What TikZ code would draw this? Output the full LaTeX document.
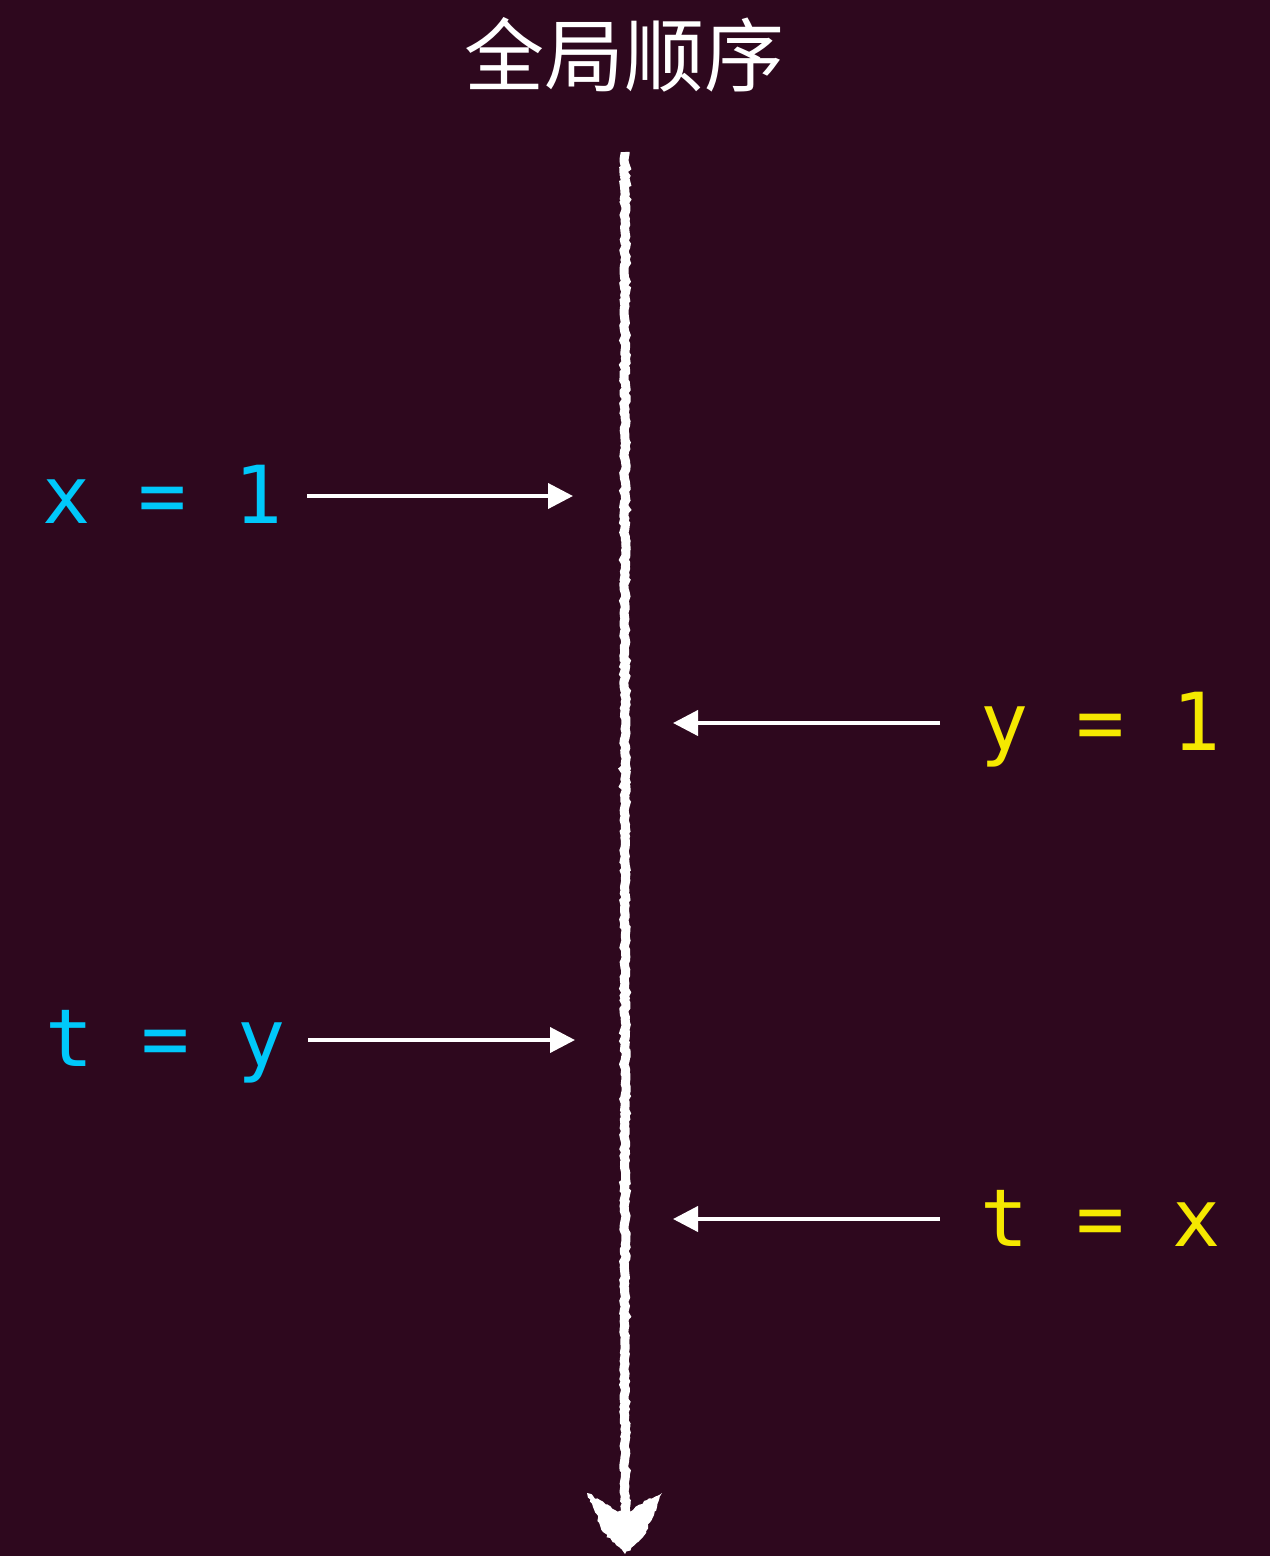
\documentclass[tikz,border=0pt]{standalone}
\usepackage{fontspec}
\newfontfamily\cjk{Noto Sans CJK SC}
\newfontfamily\monof{DejaVu Sans Mono}
\usetikzlibrary{decorations.pathmorphing,arrows.meta}
\definecolor{bgc}{RGB}{46,8,30}
\definecolor{cyanc}{RGB}{0,200,250}
\definecolor{yellowc}{RGB}{245,232,0}
\tikzset{
  codetext/.style={inner sep=0pt, anchor=base west, font=\monof\fontsize{80}{80}\selectfont},
  evarrow/.style={draw=white, line width=4pt, -{Triangle[length=25pt,width=25pt]}},
  chalk/.style={draw=white, line width=9pt, decorate, decoration={random steps, segment length=3pt, amplitude=1.2pt}},
}
\begin{document}
\begin{tikzpicture}[x=1pt,y=-1pt]
\fill[bgc] (0,0) rectangle (1270,1556);
\useasboundingbox (0,0) rectangle (1270,1556);
\node[text=white, font=\cjk\fontsize{80}{80}\selectfont, inner sep=0pt] (title) at (624,55) {全局顺序};
% timeline
\coordinate (top) at (625,152);
\coordinate (bot) at (625,1530);
\draw[chalk] (top) -- (bot);
\fill[white, decorate, decoration={random steps, segment length=3pt, amplitude=1.3pt}]
  (587,1493) -- (600,1500) -- (615,1510) -- (625,1512) -- (633,1510) -- (647,1500) -- (662,1493)
  -- (653,1517) -- (643,1537) -- (625,1554) -- (603,1532) -- (593,1507) -- cycle;
% events
\node[codetext, text=cyanc] (x1) at (42,523) {x = 1};
\coordinate (x1s) at (307,496);
\coordinate (x1e) at (573,496);
\draw[evarrow] (x1s) -- (x1e);
\node[codetext, text=yellowc] (y1) at (980,750) {y = 1};
\coordinate (y1s) at (940,723);
\coordinate (y1e) at (673,723);
\draw[evarrow] (y1s) -- (y1e);
\node[codetext, text=cyanc] (ty) at (45,1066) {t = y};
\coordinate (tys) at (308,1040);
\coordinate (tye) at (575,1040);
\draw[evarrow] (tys) -- (tye);
\node[codetext, text=yellowc] (tx) at (980,1246) {t = x};
\coordinate (txs) at (940,1219);
\coordinate (txe) at (673,1219);
\draw[evarrow] (txs) -- (txe);
\end{tikzpicture}
\end{document}
